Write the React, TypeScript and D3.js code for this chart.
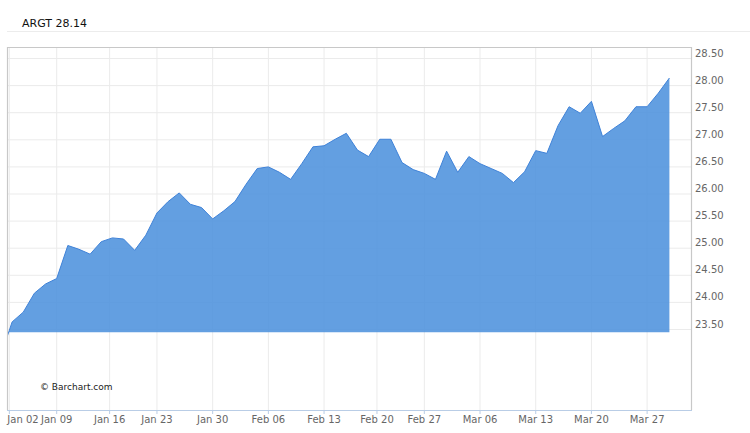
import { useEffect, useRef } from 'react';
import * as d3 from 'd3';

// trading days shown (Dec 30 is only partly visible, clipped by the frame)
const dates = [
  '2016-12-30', '2017-01-03', '2017-01-04', '2017-01-05', '2017-01-06',
  '2017-01-09', '2017-01-10', '2017-01-11', '2017-01-12', '2017-01-13',
  '2017-01-17', '2017-01-18', '2017-01-19', '2017-01-20',
  '2017-01-23', '2017-01-24', '2017-01-25', '2017-01-26', '2017-01-27',
  '2017-01-30', '2017-01-31', '2017-02-01', '2017-02-02', '2017-02-03',
  '2017-02-06', '2017-02-07', '2017-02-08', '2017-02-09', '2017-02-10',
  '2017-02-13', '2017-02-14', '2017-02-15', '2017-02-16', '2017-02-17',
  '2017-02-21', '2017-02-22', '2017-02-23', '2017-02-24',
  '2017-02-27', '2017-02-28', '2017-03-01', '2017-03-02', '2017-03-03',
  '2017-03-06', '2017-03-07', '2017-03-08', '2017-03-09', '2017-03-10',
  '2017-03-13', '2017-03-14', '2017-03-15', '2017-03-16', '2017-03-17',
  '2017-03-20', '2017-03-21', '2017-03-22', '2017-03-23', '2017-03-24',
  '2017-03-27', '2017-03-28', '2017-03-29',
];

const closes = [
  23.03, 23.64, 23.82, 24.17, 24.34,
  24.44, 25.05, 24.98, 24.89, 25.12,
  25.19, 25.17, 24.96, 25.24,
  25.65, 25.86, 26.02, 25.81, 25.75,
  25.54, 25.69, 25.86, 26.18, 26.47,
  26.50, 26.40, 26.27, 26.56, 26.87,
  26.89, 27.01, 27.12, 26.81, 26.69,
  27.01, 27.01, 26.58, 26.45,
  26.38, 26.27, 26.79, 26.40, 26.69,
  26.56, 26.47, 26.38, 26.21, 26.41,
  26.80, 26.75, 27.26, 27.61, 27.49,
  27.71, 27.06, 27.21, 27.35, 27.61,
  27.61, 27.86, 28.14,
];

const tickDates = [
  '2017-01-02', '2017-01-09', '2017-01-16', '2017-01-23', '2017-01-30',
  '2017-02-06', '2017-02-13', '2017-02-20', '2017-02-27', '2017-03-06',
  '2017-03-13', '2017-03-20', '2017-03-27',
];
const tickLabels = [
  'Jan 02', 'Jan 09', 'Jan 16', 'Jan 23', 'Jan 30',
  'Feb 06', 'Feb 13', 'Feb 20', 'Feb 27', 'Mar 06',
  'Mar 13', 'Mar 20', 'Mar 27',
];

const priceTicks = [23.5, 24, 24.5, 25, 25.5, 26, 26.5, 27, 27.5, 28, 28.5];
const baseValue = 23.45;
const symbol = 'ARGT';

const parse = d3.timeParse('%Y-%m-%d');

// fractional trading-day index for a calendar date (holidays fall between days)
function dayIndex(dateStr: string) {
  const t = parse(dateStr)!.getTime();
  const times = dates.map(d => parse(d)!.getTime());
  for (let i = 0; i < times.length; i++) {
    if (times[i] === t) return i;
    if (times[i] > t) {
      const prev = times[i - 1];
      return i - 1 + (t - prev) / (times[i] - prev);
    }
  }
  return times.length - 1;
}

export default function App() {
  const svgRef = useRef<SVGSVGElement>(null);
  const width = 750;
  const height = 433;

  useEffect(() => {
    if (!svgRef.current) return;
    const svg = d3.select(svgRef.current);
    svg.selectAll('*').remove();

    const left = 7, right = 691, top = 47, bottom = 410;
    const font = 'DejaVu Sans, Verdana, sans-serif';

    const x = d3.scaleLinear().domain([0, dates.length - 1]).range([1, 669.4]);
    const y = d3.scaleLinear().domain([23.5, 28.5]).range([329.5, 58.5]);

    // title
    svg.append('text')
      .attr('x', 22).attr('y', 26.5)
      .attr('font-size', '11px').attr('font-family', font)
      .attr('fill', '#111')
      .text(`${symbol} ${closes[closes.length - 1].toFixed(2)}`);
    svg.append('line')
      .attr('x1', 7).attr('x2', 750).attr('y1', 31.5).attr('y2', 31.5)
      .attr('stroke', '#ececec');

    svg.append('defs').append('clipPath').attr('id', 'plot-clip')
      .append('rect')
      .attr('x', left).attr('y', top)
      .attr('width', right - left).attr('height', bottom - top);

    // grid
    const tickX = tickDates.map(d => x(dayIndex(d)));
    svg.append('g').selectAll('line').data(tickX).join('line')
      .attr('x1', d => d).attr('x2', d => d)
      .attr('y1', top).attr('y2', bottom)
      .attr('stroke', '#ebebeb');
    svg.append('g').selectAll('line').data(priceTicks).join('line')
      .attr('x1', left).attr('x2', right)
      .attr('y1', d => y(d)).attr('y2', d => y(d))
      .attr('stroke', '#ebebeb');

    // area
    const idx = d3.range(closes.length);
    const area = d3.area<number>()
      .x(i => x(i))
      .y0(y(baseValue))
      .y1(i => y(closes[i]));
    const line = d3.line<number>()
      .x(i => x(i))
      .y(i => y(closes[i]));

    const plot = svg.append('g').attr('clip-path', 'url(#plot-clip)');
    plot.append('path').datum(idx)
      .attr('d', area)
      .attr('fill', '#4d92dd')
      .attr('fill-opacity', 0.88);
    plot.append('path').datum(idx)
      .attr('d', line)
      .attr('fill', 'none')
      .attr('stroke', '#3f82d8')
      .attr('stroke-width', 1);

    // frame
    svg.append('path')
      .attr('d', `M${left + 0.5},${bottom}V${top + 0.5}H${right + 0.5}V${bottom}`)
      .attr('fill', 'none').attr('stroke', '#c8c8c8').attr('stroke-width', 1.2);
    svg.append('line')
      .attr('x1', left).attr('x2', right + 1)
      .attr('y1', bottom + 0.5).attr('y2', bottom + 0.5)
      .attr('stroke', '#b9cde6').attr('stroke-width', 1.2);

    // x ticks + labels (first label kept inside the frame)
    const xg = svg.append('g');
    xg.selectAll('line').data(tickX).join('line')
      .attr('x1', d => d).attr('x2', d => d)
      .attr('y1', bottom).attr('y2', bottom + 4)
      .attr('stroke', '#b9cde6');
    xg.selectAll('text').data(tickLabels).join('text')
      .attr('x', (_, i) => Math.max(tickX[i], left + 16)).attr('y', 423)
      .attr('text-anchor', 'middle')
      .attr('font-size', '10px').attr('font-family', font)
      .attr('fill', '#666')
      .text(d => d);

    // y labels
    svg.append('g').selectAll('text').data(priceTicks).join('text')
      .attr('x', 695).attr('y', d => y(d) - 2)
      .attr('font-size', '10px').attr('font-family', font)
      .attr('fill', '#666')
      .text(d => d.toFixed(2));

    svg.append('text')
      .attr('x', 40).attr('y', 390)
      .attr('font-size', '9px').attr('font-family', font)
      .attr('fill', '#222')
      .text('© Barchart.com');
  }, []);

  return (
    <svg
      ref={svgRef}
      width={width}
      height={height}
      style={{ position: 'absolute', left: 0, top: 0, background: '#fff' }}
    />
  );
}
